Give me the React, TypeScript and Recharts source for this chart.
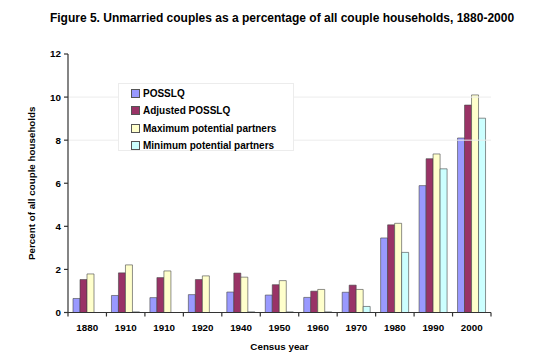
import React from "react";
import {
  BarChart,
  Bar,
  XAxis,
  YAxis,
  ReferenceLine,
  Label,
} from "recharts";

const years = ["1880", "1910", "1910", "1920", "1940", "1950", "1960", "1970", "1980", "1990", "2000"];
const posslq = [0.65, 0.79, 0.69, 0.83, 0.95, 0.81, 0.7, 0.94, 3.46, 5.89, 8.1];
const adjusted = [1.53, 1.84, 1.62, 1.53, 1.83, 1.29, 0.99, 1.27, 4.07, 7.14, 9.63];
const maxPartners = [1.79, 2.21, 1.93, 1.7, 1.64, 1.48, 1.07, 1.07, 4.14, 7.36, 10.1];
const minPartners = [0, 0.03, 0, 0, 0.03, 0.03, 0.03, 0.28, 2.79, 6.67, 9.02];
const yTicks = [0, 2, 4, 6, 8, 10, 12];
const gridValues = [8, 10];

const series = [
  { key: "posslq", name: "POSSLQ", color: "#9999ff" },
  { key: "adjusted", name: "Adjusted POSSLQ", color: "#993366" },
  { key: "maxPartners", name: "Maximum potential partners", color: "#ffffcc" },
  { key: "minPartners", name: "Minimum potential partners", color: "#ccffff" },
];

const data = years.map((year, i) => ({
  year,
  posslq: posslq[i],
  adjusted: adjusted[i],
  maxPartners: maxPartners[i],
  minPartners: minPartners[i],
}));

const FONT = "'Liberation Sans', Arial, sans-serif";
const PLOT_LEFT = 68;
const PLOT_RIGHT = 491;
const BAND = (PLOT_RIGHT - PLOT_LEFT) / years.length;

const XTick = (props: any) => {
  const { x, y, payload, index } = props;
  const top = y - 12;
  const last = index === years.length - 1;
  return (
    <g>
      <line x1={x - BAND / 2} y1={top} x2={x - BAND / 2} y2={top + 4} stroke="#333" strokeWidth={1.2} />
      {last && (
        <line x1={x + BAND / 2} y1={top} x2={x + BAND / 2} y2={top + 4} stroke="#333" strokeWidth={1.2} />
      )}
      <text x={x} y={y} dy="0.71em" textAnchor="middle" fontSize={9.8} fontWeight="bold" fill="#000" fontFamily={FONT}>
        {payload.value}
      </text>
    </g>
  );
};

const LegendBox = () => (
  <div
    style={{
      position: "absolute",
      left: 118,
      top: 83,
      width: 176,
      height: 68,
      boxSizing: "border-box",
      border: "1px solid #ececec",
      background: "#fff",
      paddingTop: 1,
      paddingLeft: 12,
    }}
  >
    {series.map((s) => (
      <div
        key={s.key}
        style={{
          height: 17.3,
          display: "flex",
          alignItems: "center",
          fontFamily: FONT,
          fontWeight: "bold",
          fontSize: 10,
          color: "#000",
        }}
      >
        <span
          style={{
            width: 7,
            height: 7,
            background: s.color,
            border: "1px solid #555",
            marginRight: 3,
            display: "inline-block",
          }}
        />
        {s.name}
      </div>
    ))}
  </div>
);

export default function App() {
  return (
    <div style={{ position: "absolute", left: 0, top: 0, width: 560, height: 363, background: "#fff" }}>
      <div
        style={{
          position: "absolute",
          left: 0,
          width: 560,
          top: 11,
          textAlign: "center",
          fontFamily: FONT,
          fontWeight: "bold",
          fontSize: 12,
          color: "#000",
          paddingLeft: 2,
        }}
      >
        Figure 5. Unmarried couples as a percentage of all couple households, 1880-2000
      </div>
      <BarChart
        width={560}
        height={363}
        data={data}
        margin={{ top: 54, right: 560 - PLOT_RIGHT, bottom: 20.5, left: 0 }}
        barCategoryGap={5}
        barGap={0}
      >
        {gridValues.map((v) => (
          <ReferenceLine key={v} y={v} stroke="#ececec" strokeWidth={1} />
        ))}
        <XAxis
          dataKey="year"
          height={30}
          tickSize={4}
          tickMargin={8}
          tickLine={false}
          tick={<XTick />}
          stroke="#333"
          strokeWidth={1.2}
          interval={0}
        >
          <Label
            value="Census year"
            position="insideBottom"
            offset={-7}
            style={{ fontFamily: FONT, fontWeight: "bold", fontSize: 9.8, fill: "#000" }}
          />
        </XAxis>
        <YAxis
          width={PLOT_LEFT}
          domain={[0, 12]}
          ticks={yTicks}
          interval={0}
          tickSize={4}
          tickMargin={3}
          stroke="#333"
          strokeWidth={1.2}
          tick={{ fontFamily: FONT, fontWeight: "bold", fontSize: 9.8, fill: "#000" }}
        >
          <Label
            value="Percent of all couple households"
            angle={-90}
            position="center"
            dx={-2}
            style={{ fontFamily: FONT, fontWeight: "bold", fontSize: 9.8, fill: "#000", textAnchor: "middle" }}
          />
        </YAxis>
        {series.map((s) => (
          <Bar
            key={s.key}
            dataKey={s.key}
            name={s.name}
            fill={s.color}
            stroke="#444"
            strokeWidth={0.6}
            isAnimationActive={false}
          />
        ))}
      </BarChart>
      <LegendBox />
    </div>
  );
}
